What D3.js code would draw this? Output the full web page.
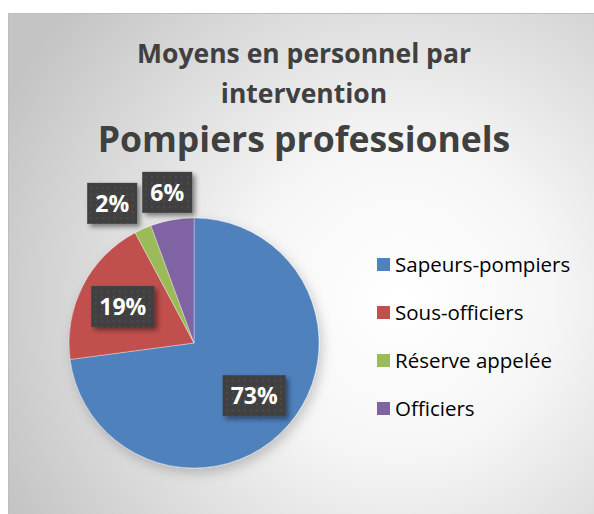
<!DOCTYPE html>
<html>
<head>
<meta charset="utf-8">
<script src="https://cdn.jsdelivr.net/npm/d3@7"></script>
<style>
  body { margin: 0; background: #fff; }
  svg { display: block; }
</style>
</head>
<body>
<div id="chart"></div>
<script>
// values (start at 12 o'clock, clockwise)
let categories = ['Sapeurs-pompiers', 'Sous-officiers', 'Réserve appelée', 'Officiers'];
let values = [72.9, 19.3, 2.2, 5.6];
let colors = ['#4F81BD', '#C0504D', '#9BBB59', '#8064A2'];
let titleLines = ['Moyens en personnel par', 'intervention'];
let subTitle = 'Pompiers professionels';

let width = 594, height = 514;
let cx = 194, cy = 343, radius = 125;

let svg = d3.select('#chart').append('svg')
  .attr('width', width)
  .attr('height', height);

let defs = svg.append('defs');

// background gradient
let grad = defs.append('radialGradient')
  .attr('id', 'bg')
  .attr('gradientUnits', 'userSpaceOnUse')
  .attr('cx', 400).attr('cy', 300).attr('r', 440);
grad.append('stop').attr('offset', '0%').attr('stop-color', '#ffffff');
grad.append('stop').attr('offset', '35%').attr('stop-color', '#f6f6f6');
grad.append('stop').attr('offset', '100%').attr('stop-color', '#c4c4c4');

// shadows
let pieShadow = defs.append('filter').attr('id', 'pieShadow')
  .attr('x', '-20%').attr('y', '-20%').attr('width', '140%').attr('height', '140%');
pieShadow.append('feDropShadow')
  .attr('dx', 3).attr('dy', 5).attr('stdDeviation', 6)
  .attr('flood-color', '#000').attr('flood-opacity', 0.2);

let boxShadow = defs.append('filter').attr('id', 'boxShadow')
  .attr('x', '-30%').attr('y', '-30%').attr('width', '160%').attr('height', '160%');
boxShadow.append('feDropShadow')
  .attr('dx', 3).attr('dy', 3).attr('stdDeviation', 2.5)
  .attr('flood-color', '#000').attr('flood-opacity', 0.45);

// dotted fill for the label boxes
let pat = defs.append('pattern')
  .attr('id', 'dots')
  .attr('patternUnits', 'userSpaceOnUse')
  .attr('width', 6).attr('height', 6);
pat.append('rect').attr('width', 6).attr('height', 6).attr('fill', '#3f3f3f');
pat.append('rect').attr('x', 2).attr('y', 2).attr('width', 1.5).attr('height', 1.5).attr('fill', '#585858');

// chart area
svg.append('rect')
  .attr('x', 8.5).attr('y', 13.5)
  .attr('width', width).attr('height', height)
  .attr('fill', 'url(#bg)')
  .attr('stroke', '#bdbdbd');

// titles
svg.selectAll('.title')
  .data(titleLines)
  .enter().append('text')
  .attr('class', 'title')
  .attr('x', 304)
  .attr('y', (_, i) => 63 + i * 40)
  .attr('text-anchor', 'middle')
  .style('font-family', '"Open Sans", sans-serif')
  .style('font-weight', 700)
  .style('font-size', '26.5px')
  .style('fill', '#404040')
  .text(d => d);

svg.append('text')
  .attr('x', 304)
  .attr('y', 152)
  .attr('text-anchor', 'middle')
  .style('font-family', '"Open Sans", sans-serif')
  .style('font-weight', 700)
  .style('font-size', '35.5px')
  .style('fill', '#404040')
  .text(subTitle);

// pie
let pie = d3.pie().sort(null).value(d => d);
let arcs = pie(values);
let arc = d3.arc().innerRadius(0).outerRadius(radius);
let color = d3.scaleOrdinal().domain(categories).range(colors);

let g = svg.append('g').attr('transform', `translate(${cx}, ${cy})`);

g.append('g')
  .attr('filter', 'url(#pieShadow)')
  .selectAll('path')
  .data(arcs)
  .enter().append('path')
  .attr('d', arc)
  .attr('fill', (d, i) => color(categories[i]))
  .attr('stroke', 'rgba(255,255,255,0.5)')
  .attr('stroke-width', 0.7);

// data labels: inside for big slices, outside end for small ones
let total = d3.sum(values);
let inner = d3.arc().innerRadius(radius * 0.64).outerRadius(radius * 0.64);
let outer = d3.arc().innerRadius(radius + 28).outerRadius(radius + 28);
let boxH = 41, fontSize = 23;

let labels = arcs.map((d, i) => {
  let text = Math.round(d.value / total * 100) + '%';
  let small = d.value / total < 0.1;
  let [x, y] = small ? outer.centroid(d) : inner.centroid(d);
  let w = text.length > 2 ? 63 : 50;
  return { text, x, y, w, small };
});

// push overlapping outside labels apart (right to left)
let outs = labels.filter(l => l.small).sort((a, b) => b.x - a.x);
for (let k = 1; k < outs.length; k++) {
  let prev = outs[k - 1], cur = outs[k];
  let maxX = prev.x - prev.w / 2 - 5 - cur.w / 2;
  if (cur.x > maxX) cur.x = maxX;
}

let lab = g.selectAll('.lab')
  .data(labels)
  .enter().append('g')
  .attr('class', 'lab')
  .attr('transform', d => `translate(${d.x}, ${d.y})`);

lab.append('rect')
  .attr('x', d => -d.w / 2)
  .attr('y', -boxH / 2)
  .attr('width', d => d.w)
  .attr('height', boxH)
  .attr('fill', 'url(#dots)')
  .attr('filter', 'url(#boxShadow)');

lab.append('text')
  .attr('text-anchor', 'middle')
  .attr('dy', '0.36em')
  .style('font-family', '"Open Sans", sans-serif')
  .style('font-weight', 700)
  .style('font-size', fontSize + 'px')
  .style('fill', '#ffffff')
  .text(d => d.text);

// legend
let legendY = d3.scalePoint()
  .domain(categories)
  .range([265, 409]);

let legend = svg.selectAll('.legend')
  .data(categories)
  .enter().append('g')
  .attr('class', 'legend')
  .attr('transform', d => `translate(377, ${legendY(d)})`);

legend.append('rect')
  .attr('x', 0).attr('y', -7)
  .attr('width', 13).attr('height', 13)
  .attr('fill', d => color(d));

legend.append('text')
  .attr('x', 18)
  .attr('dy', '0.36em')
  .style('font-family', '"Open Sans", sans-serif')
  .style('font-size', '20.5px')
  .style('fill', '#000')
  .text(d => d);
</script>
</body>
</html>
